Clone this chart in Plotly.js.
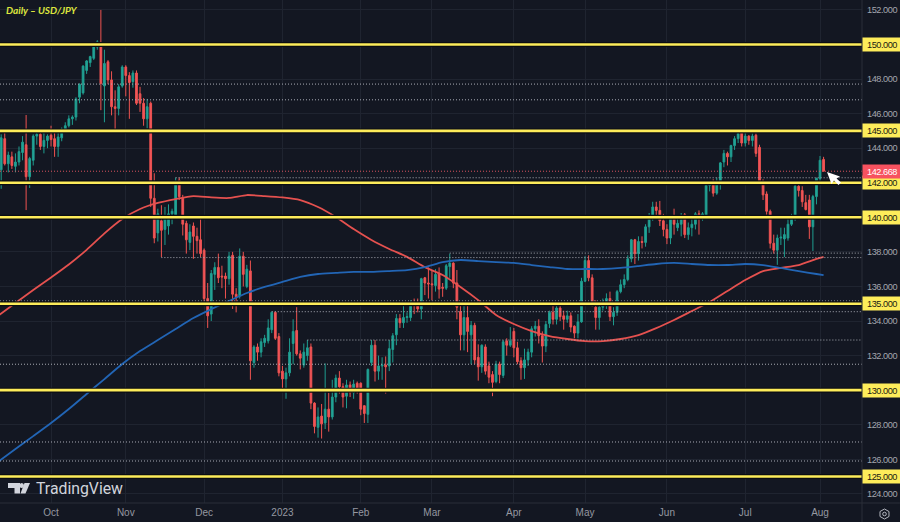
<!DOCTYPE html>
<html><head><meta charset="utf-8">
<script src="https://cdn.plot.ly/plotly-3.0.1.min.js"></script>
<style>html,body{margin:0;padding:0;background:#131722;overflow:hidden}#c{width:900px;height:522px}
.ytick text{letter-spacing:-0.45px}
.annotation:not([data-index="8"]):not([data-index="9"]) text{letter-spacing:-0.45px}</style>
</head><body><div id="c"></div>
<script>
const dates = [
"2022-09-13","2022-09-14","2022-09-15","2022-09-16","2022-09-19","2022-09-20","2022-09-21","2022-09-22","2022-09-23","2022-09-26","2022-09-27","2022-09-28","2022-09-29","2022-09-30",
"2022-10-03","2022-10-04","2022-10-05","2022-10-06","2022-10-07","2022-10-10","2022-10-11","2022-10-12","2022-10-13","2022-10-14","2022-10-17","2022-10-18","2022-10-19","2022-10-20","2022-10-21","2022-10-24","2022-10-25","2022-10-26","2022-10-27","2022-10-28","2022-10-31",
"2022-11-01","2022-11-02","2022-11-03","2022-11-04","2022-11-07","2022-11-08","2022-11-09","2022-11-10","2022-11-11","2022-11-14","2022-11-15","2022-11-16","2022-11-17","2022-11-18","2022-11-21","2022-11-22","2022-11-23","2022-11-24","2022-11-25","2022-11-28","2022-11-29","2022-11-30",
"2022-12-01","2022-12-02","2022-12-05","2022-12-06","2022-12-07","2022-12-08","2022-12-09","2022-12-12","2022-12-13","2022-12-14","2022-12-15","2022-12-16","2022-12-19","2022-12-20","2022-12-21","2022-12-22","2022-12-23","2022-12-26","2022-12-27","2022-12-28","2022-12-29","2022-12-30",
"2023-01-02","2023-01-03","2023-01-04","2023-01-05","2023-01-06","2023-01-09","2023-01-10","2023-01-11","2023-01-12","2023-01-13","2023-01-16","2023-01-17","2023-01-18","2023-01-19","2023-01-20","2023-01-23","2023-01-24","2023-01-25","2023-01-26","2023-01-27","2023-01-30","2023-01-31",
"2023-02-01","2023-02-02","2023-02-03","2023-02-06","2023-02-07","2023-02-08","2023-02-09","2023-02-10","2023-02-13","2023-02-14","2023-02-15","2023-02-16","2023-02-17","2023-02-20","2023-02-21","2023-02-22","2023-02-23","2023-02-24","2023-02-27","2023-02-28",
"2023-03-01","2023-03-02","2023-03-03","2023-03-06","2023-03-07","2023-03-08","2023-03-09","2023-03-10","2023-03-13","2023-03-14","2023-03-15","2023-03-16","2023-03-17","2023-03-20","2023-03-21","2023-03-22","2023-03-23","2023-03-24","2023-03-27","2023-03-28","2023-03-29","2023-03-30","2023-03-31",
"2023-04-03","2023-04-04","2023-04-05","2023-04-06","2023-04-07","2023-04-10","2023-04-11","2023-04-12","2023-04-13","2023-04-14","2023-04-17","2023-04-18","2023-04-19","2023-04-20","2023-04-21","2023-04-24","2023-04-25","2023-04-26","2023-04-27","2023-04-28",
"2023-05-01","2023-05-02","2023-05-03","2023-05-04","2023-05-05","2023-05-08","2023-05-09","2023-05-10","2023-05-11","2023-05-12","2023-05-15","2023-05-16","2023-05-17","2023-05-18","2023-05-19","2023-05-22","2023-05-23","2023-05-24","2023-05-25","2023-05-26","2023-05-29","2023-05-30","2023-05-31",
"2023-06-01","2023-06-02","2023-06-05","2023-06-06","2023-06-07","2023-06-08","2023-06-09","2023-06-12","2023-06-13","2023-06-14","2023-06-15","2023-06-16","2023-06-19","2023-06-20","2023-06-21","2023-06-22","2023-06-23","2023-06-26","2023-06-27","2023-06-28","2023-06-29","2023-06-30",
"2023-07-03","2023-07-04","2023-07-05","2023-07-06","2023-07-07","2023-07-10","2023-07-11","2023-07-12","2023-07-13","2023-07-14","2023-07-17","2023-07-18","2023-07-19","2023-07-20","2023-07-21","2023-07-24","2023-07-25","2023-07-26","2023-07-27","2023-07-28","2023-07-31",
"2023-08-01","2023-08-02"];
const opens = [
142.75,144.55,143.1,143.5,142.95,143.2,143.75,144.2,142.35,143.3,144.7,144.8,144.1,144.45,
144.75,144.55,144.1,144.6,145.1,145.3,145.7,145.8,146.95,147.2,148.5,148.95,149.2,149.85,150.1,147.6,149,147.95,146.4,146.3,147.6,
148.7,148.2,147.85,148.35,147.15,146.6,145.7,146.6,141.1,139.1,139.8,139.3,139.5,140.2,140.15,142.15,141.1,139.65,138.55,139.5,138.9,138.7,
138.1,135.3,134.4,136.7,137.1,136.6,136.6,136.45,137.8,135.55,135.45,137.75,136,136.9,131.6,132.5,132.2,132.75,132.85,133.5,134.5,133.1,
131.1,130.65,131,132.7,133.45,132.1,131.45,132,132.5,129.25,127.85,128.5,128.1,128.9,128.45,129.6,130.7,130.2,129.65,130.3,129.85,130.4,
130.4,129.1,128.6,131.6,132.6,131.1,131.4,131.45,131.4,132.35,133.2,134.15,133.9,134.2,134.2,135,134.9,134.7,136.5,136.2,
136.15,136.05,136.75,135.95,135.9,137.15,137.35,136.2,134.55,133.2,134.2,133.2,133.75,131.9,131.35,132.5,131.4,130.9,130.5,131.5,130.85,132.85,132.6,
133.4,132.45,131.7,131.3,131.75,132.2,133.55,133.7,133.15,132.55,133.85,134.5,134.1,134.75,134.3,134.1,134.3,133.7,133.3,133.95,
136.3,137.5,136.5,134.8,134.2,134.8,135.1,135.3,134.25,134.5,135.7,136.1,136.4,137.6,138.7,137.9,138.6,138.55,139.45,140.05,140.6,140.4,139.8,
139.3,138.8,140,139.4,139.6,140.15,139,139.4,139.6,140.2,139.95,140.05,141.85,141.95,141.4,141.9,143.2,143.7,143.5,144.15,144.55,144.9,
144.3,144.7,144.45,144.75,144.05,142.1,141.35,140.35,138.5,138.1,138.8,138.75,138.8,139.6,140,141.8,141.55,140.85,141,139.45,141.2,
142.25,143.35];
const highs = [
144.8,144.95,143.8,143.8,143.7,144.1,144.7,145.92,143.5,144.8,144.9,144.9,144.9,144.8,
145.3,144.9,144.9,145.2,145.5,145.9,145.9,146.95,147.75,148.8,149.1,149.35,149.95,150.25,152,149.7,149.1,148.45,147.35,147.7,148.8,
148.8,148.4,148.5,148.5,147.55,146.9,146.85,146.7,142.55,140.5,140.7,140.6,140.75,140.5,142.3,142.3,141.3,139.8,139.6,139.7,139.4,140.1,
138.2,136.2,136.95,137.4,137.9,137.2,136.8,138,138,135.9,138.2,138,137.25,137.5,132.6,132.7,133,133.2,134.1,134.55,134.55,133.3,
131.4,131.3,133,134.1,134.8,132.3,132.7,132.9,132.7,129.3,129,129.2,131.55,129.85,130.6,130.9,131.1,130.4,130.6,130.5,130.6,130.5,
130.45,129.1,131.25,132.9,132.9,132,131.9,131.95,132.9,133.3,134.4,134.4,135,134.5,135.2,135.3,135.3,136.5,136.55,137.1,
136.9,137,137.1,136.2,137.3,137.9,137.4,136.95,135.1,135.1,135.1,134,133.9,132.65,132.65,132.65,131.65,131.1,131.7,131.65,132.9,133,133.65,
133.6,132.8,131.9,132.4,132.4,133.7,134,134.1,133.4,134,134.6,134.9,135,135,134.6,134.6,134.5,133.75,134.4,136.5,
137.75,137.8,136.7,135.2,135.1,135.3,135.6,135.7,134.8,135.8,136.4,136.7,137.8,138.75,138.75,138.9,138.9,139.6,140.25,140.9,140.9,140.95,140.2,
139.6,140.1,140.5,140,140.25,140.25,139.7,139.9,140.3,140.4,140.3,141.95,142.1,142.2,142.3,143.2,143.9,143.8,144.2,144.7,145,145.05,
144.9,144.75,144.85,144.85,144.2,142.2,141.5,140.45,139,139,139.4,139.4,139.9,140.2,142,141.95,141.8,141.3,141.3,141.3,142.3,
143.55,143.5];
const lows = [
141.65,143,142.6,142.8,142.6,143,143.3,140.42,141.7,143,144.2,143.9,143.7,144,
144.1,143.5,143.5,144.4,144.9,145.2,145.35,145.6,146.6,147.1,148.3,148.7,149.1,149.7,146.2,145.5,147.7,145.9,145.1,145.9,147.5,
147,145.7,147.5,146.5,146.1,145.3,145.15,140.6,138.5,138.6,137.7,138.4,139,139.6,140,141,138.95,137.9,138.1,137.6,137.9,137.7,
135,133.6,134,135.8,136.2,135.9,135.3,136.1,134.7,134.5,135.3,136,135.9,130.6,131.3,131.7,131.9,132.5,132.7,133.3,132.9,130.8,
129.9,129.5,130.8,131.5,132,131.2,131.3,131.7,128.9,127.5,127.25,127.2,127.75,127.6,128.3,129.3,129.8,129,128.95,129.6,129.5,129.8,
128.55,128.1,128.1,131.4,130.5,130.6,130.6,129.8,131.1,131.6,132.6,133.6,133.6,133.9,134,134.4,134.5,134.1,135.5,135.3,
135.2,135.7,135.3,135.4,135.8,136.5,135.9,134.1,132.3,132.3,132.2,131.5,131.5,130.55,131,130.9,130.4,129.65,130.4,130.4,130.7,132,132.5,
131.9,131.5,130.6,130.65,131.4,131.9,133.1,132.7,131.6,132.2,133.6,133.8,133.8,134,133.5,133.9,133.35,133,133,133.9,
136.25,136.3,134.85,133.5,133.5,134.6,134.7,134,133.75,134.3,135.6,135.9,136.3,137.4,137.3,137.5,138.2,138.3,139.1,139.8,140,139.5,138.9,
138.45,138.45,139,139.2,138.9,138.8,138.7,138.9,139.3,139,139.8,139.9,141.5,141.2,141.3,141.6,142.9,143,143.2,143.9,144.3,144.1,
144.1,144.2,144.1,143.5,142,141,140.15,138.2,137.9,137.25,138.4,137.7,138.65,139.5,139.8,141.2,140.6,140.4,138.75,138.05,140.75,
142.05,142.65];
const closes = [
144.6,143.1,143.6,143,143.2,143.8,144.35,142.35,143.4,144.7,144.8,144.1,144.45,144.7,
144.5,144.1,144.65,145.1,145.3,145.7,145.8,146.85,147.7,148.75,149.05,149.3,149.85,150.15,147.75,148.9,147.95,146.4,146.3,147.55,148.7,
148.2,147.8,148.35,146.6,146.6,145.7,146.4,141.1,138.8,140.2,139.25,139.95,140.2,140.35,142.1,141.2,139.6,138.7,139.15,138.9,138.65,137.9,
135.3,134.3,136.75,137.1,136.5,136.55,136.45,137.75,135.55,135.4,137.75,136.7,137,131.7,132.5,132.2,132.8,133,133.6,134.5,133,131,
130.65,131,132.2,133.4,132.1,131.85,132.2,132.45,129.25,127.9,128.45,128.05,128.9,128.45,129.6,130.7,130.2,129.6,130.3,129.85,130.35,130.1,
128.9,128.65,131.2,132.6,131.1,131.4,131.45,131.35,132.4,133.15,134.15,133.9,134.2,134.25,135,134.9,134.7,136.45,136.2,136.15,
136.1,136.7,135.85,135.9,137.2,137.35,136.2,134.8,133.2,134.2,133.4,133.75,131.75,131.35,132.6,131.1,130.75,130.45,131.5,130.9,132.8,132.6,132.85,
132.45,131.65,131.3,131.75,132.2,133.55,133.7,133.15,132.55,133.8,134.5,134.1,134.75,134.25,134.1,134.3,133.65,133.3,133.95,136.3,
137.5,136.5,134.9,134.2,134.8,135.1,135.3,134.25,134.5,135.7,136.1,136.4,137.6,138.7,137.9,138.6,138.55,139.45,140.05,140.6,140.4,139.8,139.3,
138.8,140,139.6,139.65,140.1,139,139.4,139.6,140.2,139.95,140.2,141.85,141.95,141.4,141.9,143.15,143.7,143.5,144.15,144.55,144.85,144.3,
144.7,144.45,144.7,143.7,142.1,141.3,140.35,138.5,138.1,138.8,138.85,139,139.6,140.05,141.8,141.55,140.9,140.45,139.45,141.2,142.25,
143.3,142.67];
const maDates = ["2022-09-12","2022-09-19","2022-09-26","2022-10-03","2022-10-10","2022-10-17","2022-10-24","2022-10-31","2022-11-07","2022-11-14","2022-11-21","2022-11-28","2022-12-05","2022-12-12","2022-12-19","2022-12-26","2023-01-02","2023-01-09","2023-01-16","2023-01-23","2023-01-30","2023-02-06","2023-02-13","2023-02-20","2023-02-27","2023-03-06","2023-03-13","2023-03-20","2023-03-27","2023-04-03","2023-04-10","2023-04-17","2023-04-24","2023-05-01","2023-05-08","2023-05-15","2023-05-22","2023-05-29","2023-06-05","2023-06-12","2023-06-19","2023-06-26","2023-07-03","2023-07-10","2023-07-17","2023-07-24","2023-07-31","2023-08-02"];
const ma100 = [134.29,135.04,135.79,136.52,137.27,138.12,139.07,139.9,140.48,140.83,141.06,141.23,141.15,141.12,141.29,141.23,141.15,141,140.6,140.02,139.32,138.69,138.17,137.71,137.12,136.66,135.97,135.21,134.35,133.83,133.42,133.13,132.96,132.84,132.84,132.96,133.19,133.59,134.06,134.58,135.1,135.74,136.37,136.89,137.07,137.24,137.59,137.71];
const ma200 = [125.84,126.59,127.34,128.1,128.91,129.78,130.64,131.51,132.26,132.9,133.54,134.17,134.69,135.16,135.62,135.97,136.26,136.55,136.72,136.78,136.84,136.84,136.89,136.95,137.12,137.41,137.53,137.47,137.41,137.36,137.24,137.12,137.01,137.01,137.01,137.07,137.18,137.3,137.36,137.3,137.24,137.24,137.3,137.24,137.07,136.89,136.72,136.66];
const keyLevels = [150,145,142,140,135,130,125];
const dotLevels = [147.71,146.8,135.16,131.5,127,125.9];
const rayLevels = [142.29,137.93,137.67,134.54,132.9];
const rayStarts = ["2022-11-21","2023-03-08","2022-11-15","2022-12-28","2023-01-11"];
const lastPrice = 142.668;
const monthTicks = ["2022-10-03","2022-11-01","2022-12-01","2023-01-02","2023-02-01","2023-03-01","2023-04-03","2023-05-01","2023-06-01","2023-07-03","2023-08-01"];
const monthLabels = ["Oct","Nov","Dec","2023","Feb","Mar","Apr","May","Jun","Jul","Aug"];
const priceTicks = [124,126,128,132,134,136,138,144,146,148,152];

const W=862,H=503;
const X0="2022-09-12 16:00",X1="2023-08-16 19:00";
const SANS='"Liberation Sans", Arial, sans-serif';
const fx=p=>(p/W).toFixed(5), fy=p=>(1-p/H).toFixed(5);
const P=a=>a.map((q,i)=>(i?'L':'M')+fx(q[0])+','+fy(q[1])).join(' ')+' Z';
const YEL='#fdec5a', BG='#131722';
const paperPath=(pts,fill)=>({type:'path',xref:'paper',yref:'paper',path:P(pts),fillcolor:fill,line:{width:0},layer:'above'});
const hl=(y,x0,color,width,dash)=>({type:'line',xref:'x',yref:'y',x0:x0,x1:X1,y0:y,y1:y,line:{color,width,dash:dash||'solid'},layer:'above'});

const shapes=[];
dotLevels.forEach(l=>shapes.push(hl(l,X0,'#a9acb5',1,'1px,2px')));
rayLevels.forEach((l,i)=>shapes.push(hl(l,rayStarts[i],'#a9acb5',1,'1px,2px')));
shapes.push(hl(lastPrice,X0,'#d9535d',1,'1px,2px'));
keyLevels.forEach(l=>{shapes.push(hl(l,X0,'#0b0d12',5));shapes.push(hl(l,X0,YEL,2.6));});
shapes.push({type:'line',xref:'paper',yref:'paper',x0:1,x1:1,y0:-0.0378,y1:1,line:{color:'#2a2e39',width:1}});
shapes.push({type:'line',xref:'paper',yref:'paper',x0:0,x1:1.044,y0:0,y1:0,line:{color:'#2a2e39',width:1}});
shapes.push(paperPath([[827,172],[840,176.5],[836.5,178.5],[841,182.5],[838.5,185],[834,180.5],[831.5,184]],'#ffffff'));
shapes.push(paperPath([[8,483],[20,483],[20,493.5],[14.5,493.5],[14.5,488],[8,488]],'#d1d4dc'));
shapes.push(paperPath([[20.5,493.5],[24.5,483],[30,483],[25.5,493.5]],'#d1d4dc'));
shapes.push({type:'circle',xref:'paper',yref:'paper',x0:fx(19.5),x1:fx(24),y0:fy(488),y1:fy(483),fillcolor:'#d1d4dc',line:{width:0},layer:'above'});
shapes.push({type:'path',xref:'paper',yref:'paper',path:P([[880,511.5],[884.5,509],[889,511.5],[889,516.5],[884.5,519],[880,516.5]]),line:{color:'#b2b5be',width:1},fillcolor:'rgba(0,0,0,0)',layer:'above'});
shapes.push({type:'circle',xref:'paper',yref:'paper',x0:fx(882.7),x1:fx(886.3),y0:fy(515.8),y1:fy(512.2),line:{color:'#b2b5be',width:1},layer:'above'});

const tag=(v,txt,bg,fg)=>({xref:'paper',yref:'y',x:1,y:v,xanchor:'left',yanchor:'middle',text:txt,showarrow:false,bgcolor:bg,width:38,height:13,borderpad:0,align:'center',font:{family:SANS,size:9.2,color:fg}});
const annotations=keyLevels.map(v=>tag(v,v.toFixed(3),YEL,'#1a1a12'));
annotations.push(tag(lastPrice,lastPrice.toFixed(3),'#f7525f','#ffffff'));
annotations.push({xref:'paper',yref:'paper',x:fx(4),y:fy(10),xanchor:'left',yanchor:'middle',text:'<b><i>Daily – USD/JPY</i></b>',showarrow:false,font:{family:'Lato, sans-serif',size:10,color:'#dde53e'}});
annotations.push({xref:'paper',yref:'paper',x:fx(34),y:fy(488.5),xanchor:'left',yanchor:'middle',text:'TradingView',showarrow:false,font:{family:'Roboto, sans-serif',size:15.8,color:'#d1d4dc'}});

const traces=[
 {type:'candlestick',x:dates,open:opens,high:highs,low:lows,close:closes,whiskerwidth:0,
  increasing:{line:{color:'#1f9d8f',width:1},fillcolor:'#26a69a'},decreasing:{line:{color:'#ef5350',width:1},fillcolor:'#f0565f'},showlegend:false,hoverinfo:'skip'},
 {type:'scatter',mode:'lines',x:maDates,y:ma100,line:{color:'#e5514f',width:1.8,shape:'spline',smoothing:0.6},showlegend:false,hoverinfo:'skip',name:'100 DMA'},
 {type:'scatter',mode:'lines',x:maDates,y:ma200,line:{color:'#2265b5',width:1.8,shape:'spline',smoothing:0.6},showlegend:false,hoverinfo:'skip',name:'200 DMA'}
];
const layout={
 width:900,height:522,paper_bgcolor:BG,plot_bgcolor:BG,showlegend:false,
 margin:{l:0,r:38,t:0,b:19,pad:0},
 xaxis:{type:'date',range:[X0,X1],rangeslider:{visible:false},rangebreaks:[{bounds:['sat','mon']}],tickmode:'array',tickvals:monthTicks,ticktext:monthLabels,
  showgrid:true,gridcolor:'#1f2430',gridwidth:1,zeroline:false,showline:false,ticks:'',tickfont:{family:SANS,size:10,color:'#9598a1'},ticklabelstandoff:2},
 yaxis:{side:'right',range:[123.47,152.575],tickmode:'array',tickvals:priceTicks,tickformat:'.3f',showgrid:true,gridcolor:'#1f2430',gridwidth:1,zeroline:false,showline:false,ticks:'',
  tickfont:{family:SANS,size:9.2,color:'#a3a6af'},ticklabelstandoff:4},
 shapes,annotations
};
Plotly.newPlot('c',traces,layout,{displayModeBar:false,staticPlot:true});
</script></body></html>
